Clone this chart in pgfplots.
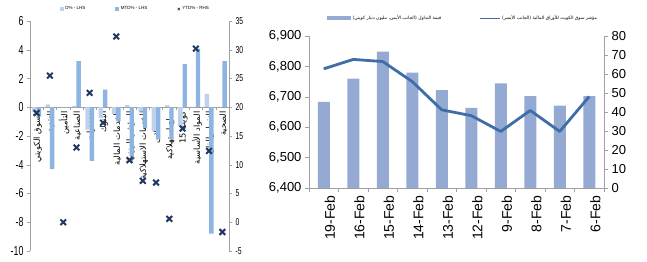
\documentclass[border=0pt]{standalone}
\usepackage{fontspec}
\setmainfont{Liberation Sans}
\newfontfamily\arabicfont[Script=Arabic]{DejaVu Sans}
\newfontfamily\narrowfont[FakeStretch=0.68]{Liberation Sans}
\usepackage{pgfplots}
\pgfplotsset{compat=1.18}
\TeXXeTstate=1
\definecolor{dlight}{RGB}{190,210,236}
\definecolor{mtdblue}{RGB}{141,180,226}
\definecolor{ytdnavy}{RGB}{31,56,100}
\definecolor{barblue}{RGB}{149,170,210}
\definecolor{lineblue}{RGB}{62,109,168}
\definecolor{axgray}{RGB}{160,160,160}
\begin{document}
\begin{tikzpicture}
\useasboundingbox (0,0) rectangle (647pt,262pt);
% ---------------- left chart: bars (LHS)
\begin{axis}[
  at={(30pt,11pt)}, anchor=south west, scale only axis,
  width=199pt, height=230pt,
  xmin=0.5, xmax=15.5, ymin=-10, ymax=6,
  axis y line*=left, axis x line*=middle,
  axis line style={draw=axgray, -},
  every tick/.style={axgray},
  tick align=outside,
  ytick={-10,-8,...,6},
  /pgf/number format/assume math mode=true,
  y tick label style={font=\narrowfont\fontsize{13}{13}\selectfont, black},
  xtick={1,...,15},
  minor xtick={1.5,2.5,...,14.5},
  major x tick style={draw=none},
  minor tick length=3pt, major tick length=3pt,
  xticklabels={
    {{\arabicfont\beginR السوق الكويتي\endR}},
    {{\arabicfont\beginR التقنية\endR}},
    {{\arabicfont\beginR التأمين\endR}},
    {{\arabicfont\beginR الصناعية\endR}},
    {{\arabicfont\beginR العقارات\endR}},
    {{\arabicfont\beginR البنوك\endR}},
    {{\arabicfont\beginR الخدمات المالية\endR}},
    {{\arabicfont\beginR المؤشر الوزني\endR}},
    {{\arabicfont\beginR الخدمات الاستهلاكية\endR}},
    {{\arabicfont\beginR الاتصالات\endR}},
    {{\arabicfont\beginR سلع استهلاكية\endR}},
    {{\arabicfont\beginR كويت \beginL 15\endL\endR}},
    {{\arabicfont\beginR المواد الأساسية\endR}},
    {{\arabicfont\beginR النفط والغاز\endR}},
    {{\arabicfont\beginR الصحية\endR}}},
  x tick label style={rotate=90, anchor=east, font=\fontsize{8.3}{8.3}\selectfont, inner sep=1pt, yshift=-1pt},
  ybar=0pt, bar width=4.4pt,
]
\addplot[fill=dlight, draw=none] coordinates {
(1,-0.3) (2,0.2) (3,0.02) (4,0.1) (5,-1.55) (6,-0.75) (7,-0.46) (8,0.15)
(9,-0.28) (10,-1.66) (11,0.15) (12,-1.3) (13,0.03) (14,0.93) (15,0.02)};
\addplot[fill=mtdblue, draw=none] coordinates {
(1,-0.65) (2,-4.3) (3,-0.02) (4,3.2) (5,-3.73) (6,1.23) (7,-0.97) (8,-3.4)
(9,-1.43) (10,-2.23) (11,-2.23) (12,3.0) (13,4.07) (14,-8.8) (15,3.2)};
\end{axis}
% ---------------- left chart: YTD (RHS)
\begin{axis}[
  at={(30pt,11pt)}, anchor=south west, scale only axis,
  width=199pt, height=230pt,
  xmin=0.5, xmax=15.5, ymin=-5, ymax=35,
  axis y line*=right, axis x line=none,
  axis line style={draw=axgray, -},
  every tick/.style={axgray},
  tick align=outside, major tick length=3pt,
  ytick={-5,0,...,35},
  /pgf/number format/assume math mode=true,
  y tick label style={font=\narrowfont\fontsize{10}{10}\selectfont, black},
  legend style={at={(0.15,1.052)}, anchor=west, draw=none, fill=none,
    font=\fontsize{4.5}{5}\selectfont, legend columns=3,
    /tikz/every even column/.append style={column sep=28pt},
    inner sep=0pt},
  legend cell align=left,
]
\addlegendimage{legend image code/.code={\fill[dlight] (0pt,-1.5pt) rectangle (3pt,1.5pt);}}
\addlegendentry{D\% - LHS}
\addlegendimage{legend image code/.code={\fill[mtdblue] (0pt,-1.5pt) rectangle (3pt,1.5pt);}}
\addlegendentry{MTD\% - LHS}
\addplot[only marks, mark=x, mark size=4pt, line width=2pt, color=ytdnavy,
  legend image code/.code={\draw[ytdnavy, line width=0.6pt] (0pt,-1.2pt) -- (2.4pt,1.2pt) (0pt,1.2pt) -- (2.4pt,-1.2pt);}]
coordinates {
(1,19.0) (2,25.5) (3,0.0) (4,13.0) (5,22.5) (6,17.3) (7,32.3) (8,10.8)
(9,7.2) (10,6.9) (11,0.6) (12,16.3) (13,30.2) (14,12.4) (15,-1.7)};
\addlegendentry{YTD\% - RHS}
\end{axis}
% ---------------- right chart: bars (right axis)
\begin{axis}[
  at={(309pt,74pt)}, anchor=south west, scale only axis,
  width=295pt, height=152pt,
  xmin=0.5, xmax=10.5, ymin=0, ymax=80,
  axis y line*=right, axis x line*=bottom,
  axis line style={draw=axgray, -},
  every tick/.style={axgray},
  tick align=outside, major tick length=4pt, minor tick length=4pt,
  ytick={0,10,...,80},
  /pgf/number format/assume math mode=true,
  y tick label style={font=\fontsize{13}{13}\selectfont, black},
  xtick={1,...,10},
  minor xtick={0.5,1.5,...,10.5},
  major x tick style={draw=none},
  xticklabels={19-Feb,16-Feb,15-Feb,14-Feb,13-Feb,12-Feb,9-Feb,8-Feb,7-Feb,6-Feb},
  x tick label style={rotate=90, anchor=east, font=\fontsize{14}{14}\selectfont, yshift=-6pt, black},
]
\addplot[ybar, bar width=12pt, fill=barblue, draw=none] coordinates {
(1,45.3) (2,57.6) (3,71.8) (4,60.7) (5,51.5) (6,42.2) (7,55.1) (8,48.3) (9,43.4) (10,48.3)};
\end{axis}
% ---------------- right chart: index line (left axis)
\begin{axis}[
  at={(309pt,74pt)}, anchor=south west, scale only axis,
  width=295pt, height=152pt,
  xmin=0.5, xmax=10.5, ymin=6400, ymax=6900,
  axis y line*=left, axis x line=none,
  axis line style={draw=axgray, -},
  every tick/.style={axgray},
  tick align=outside, major tick length=4pt,
  ytick={6400,6500,...,6900},
  /pgf/number format/assume math mode=true,
  /pgf/number format/1000 sep={,},
  y tick label style={font=\fontsize{13}{13}\selectfont, black},
  legend style={at={(0.061,1.118)}, anchor=west, draw=none, fill=none,
    font=\fontsize{4.5}{5}\selectfont, legend columns=2,
    /tikz/every even column/.append style={column sep=36pt},
    inner sep=0pt},
]
\addlegendimage{legend image code/.code={\fill[barblue] (0pt,-1.6pt) rectangle (23pt,1.6pt);}}
\addlegendentry{{\arabicfont\beginR قيمة التداول (الجانب الأيمن، مليون دينار كويتي)\endR}}
\addplot[lineblue, line width=2.8pt, line join=round,
  legend image code/.code={\draw[lineblue, line width=0.9pt] (0pt,0pt) -- (20pt,0pt);}]
coordinates {
(1,6792) (2,6823) (3,6816) (4,6750) (5,6657) (6,6638) (7,6586) (8,6655) (9,6586) (10,6701)};
\addlegendentry{{\arabicfont\beginR مؤشر سوق الكويت للأوراق المالية (الجانب الأيسر)\endR}}
\end{axis}
\end{tikzpicture}
\end{document}
